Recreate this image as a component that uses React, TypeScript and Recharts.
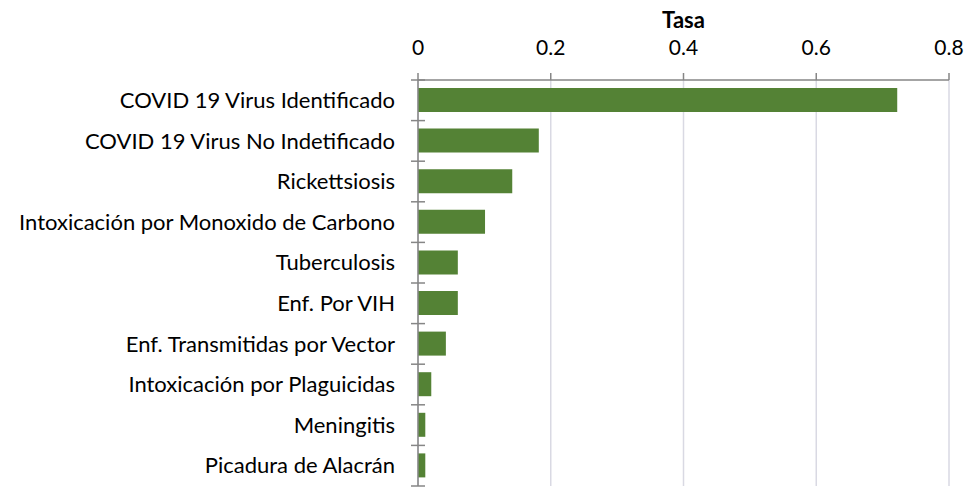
import { BarChart, Bar, XAxis, YAxis, CartesianGrid } from "recharts";

const categories = [
  "COVID 19 Virus Identificado",
  "COVID 19 Virus No Indetificado",
  "Rickettsiosis",
  "Intoxicación por Monoxido de Carbono",
  "Tuberculosis",
  "Enf. Por VIH",
  "Enf. Transmitidas por Vector",
  "Intoxicación por Plaguicidas",
  "Meningitis",
  "Picadura de Alacrán",
];

const tasa = [0.722, 0.182, 0.142, 0.101, 0.06, 0.06, 0.042, 0.02, 0.011, 0.011];

const xTicks = [0, 0.2, 0.4, 0.6, 0.8];

const data = categories.map((name, i) => ({ name, tasa: tasa[i] }));

const FONT = "Lato, 'Noto Sans', sans-serif";
const AXIS = "#868686";
const LABEL_GAP = 23;

function CategoryTick(props: any) {
  const { x, y, payload, index } = props;
  const half = payload.offset || 0;
  const ax = x + LABEL_GAP;
  return (
    <g>
      {index === 0 && <line x1={ax - 7} x2={ax + 7} y1={y - half} y2={y - half} stroke={AXIS} strokeWidth={1.5} />}
      <line x1={ax - 7} x2={ax + 7} y1={y + half} y2={y + half} stroke={AXIS} strokeWidth={1.5} />
      <text x={x} y={y} dy="0.35em" textAnchor="end" fill="#000" fontSize={22} fontFamily={FONT}>
        {payload.value}
      </text>
    </g>
  );
}

export default function App() {
  return (
    <div style={{ position: "absolute", left: 0, top: 0, width: 966, height: 487, background: "#fff" }}>
      <BarChart
        width={966}
        height={487}
        data={data}
        layout="vertical"
        margin={{ top: 0, right: 17, left: 0, bottom: 1 }}
      >
        <CartesianGrid horizontal={false} stroke="#d9d9e3" strokeWidth={1.5} />
        <XAxis
          type="number"
          orientation="top"
          domain={[0, 0.8]}
          ticks={xTicks}
          height={80}
          tickSize={7}
          tickMargin={18}
          axisLine={{ stroke: AXIS, strokeWidth: 1.5 }}
          tickLine={{ stroke: AXIS, strokeWidth: 1.5 }}
          tick={{ fill: "#000", fontSize: 21, fontFamily: FONT }}
          label={{
            value: "Tasa",
            position: "insideTop",
            offset: 12,
            style: { fontWeight: 700, fontSize: 22, fill: "#000", fontFamily: FONT },
          }}
        />
        <YAxis
          type="category"
          dataKey="name"
          width={418}
          tickSize={0}
          tickMargin={LABEL_GAP}
          axisLine={{ stroke: AXIS, strokeWidth: 1.5 }}
          tickLine={false}
          interval={0}
          tick={<CategoryTick />}
        />
        <Bar dataKey="tasa" fill="#548235" barSize={24} isAnimationActive={false} />
      </BarChart>
    </div>
  );
}
